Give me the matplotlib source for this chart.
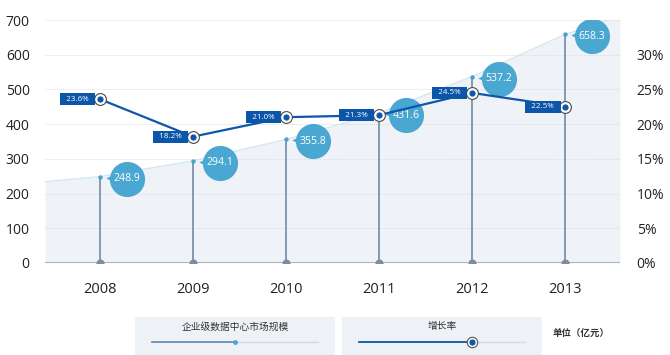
import matplotlib
matplotlib.use("Agg")
import matplotlib.pyplot as plt
import matplotlib.transforms as mtrans
from matplotlib.patches import Rectangle
from matplotlib.lines import Line2D
import numpy as np

plt.rcParams['font.family'] = ['Open Sans', 'Noto Sans CJK SC', 'DejaVu Sans']

years = ['2008', '2009', '2010', '2011', '2012', '2013']
market = [248.9, 294.1, 355.8, 431.6, 537.2, 658.3]
growth = [23.6, 18.2, 21.0, 21.3, 24.5, 22.5]
left_ticks = [0, 100, 200, 300, 400, 500, 600, 700]
right_ticks = [0, 5, 10, 15, 20, 25, 30]
legend_labels = ['企业级数据中心市场规模', '增长率']
unit_label = '单位（亿元）'

W, H = 670, 355
fig = plt.figure(figsize=(6.7, 3.55), dpi=100)
ax = fig.add_axes([45 / W, 1 - 263 / H, 575 / W, 243 / H])
ax2 = ax.twinx()

x = np.arange(len(years))
xl, xr = -0.59, len(years) - 1 + 0.59
ax.set_xlim(xl, xr)
ax.set_ylim(0, 700)
ax2.set_ylim(0, 35)

# area
m = np.array(market)
y_left = m[0] - (m[1] - m[0]) * (0 - xl) + 12
y_right = m[-1] + (m[-1] - m[-2]) * (xr - x[-1]) * 0.75
ax_x = np.concatenate([[xl], x, [xr]])
ax_y = np.concatenate([[y_left], m, [y_right]])
ax.fill_between(ax_x, 0, ax_y, color='#eff3f7', zorder=0, lw=0)
ax.plot(ax_x, ax_y, color='#d3e8f2', lw=1.0, zorder=1)

# grid
for t in left_ticks[1:]:
    ax.axhline(t, color='#d9dee4', lw=0.7, ls=(0, (1, 1)), zorder=1)
ax.axhline(0, color='#a8b6c6', lw=1.5, zorder=2)

for s in ['top', 'right', 'left', 'bottom']:
    ax.spines[s].set_visible(False)
    ax2.spines[s].set_visible(False)

ax.set_yticks(left_ticks)
ax.set_yticklabels([str(t) for t in left_ticks], fontsize=10, color='#222222')
ax.tick_params(axis='y', length=0, pad=11)
ax.set_xticks(x)
ax.set_xticklabels(years, fontsize=10.5, color='#222222')
ax.tick_params(axis='x', length=0, pad=14)
ax2.set_yticks(right_ticks)
ax2.set_yticklabels([f'{t}%' for t in right_ticks], fontsize=10, color='#222222')
ax2.tick_params(axis='y', length=0, pad=12)

# stems
ax.vlines(x, 0, market, color='#7b93ad', lw=1.3, zorder=3)
ax.scatter(x, [0] * len(x), s=34, color='#7a8da4', zorder=4, lw=0)
ax.scatter(x, market, s=10, color='#46a3cc', zorder=4, lw=0)

# bubbles
def off(dx, dy):
    return ax.transData + mtrans.ScaledTranslation(dx / 100, dy / 100, fig.dpi_scale_trans)

bub = '#4aa7d1'
ax.scatter(x, market, s=640, color=bub, lw=0, zorder=5, transform=off(27, -2))
ax.scatter(x, market, s=55, marker='<', color=bub, lw=0, zorder=5, transform=off(11, -1))
for xi, v in zip(x, market):
    ax.text(xi, v, f'{v:.1f}', transform=off(27, -2), ha='center', va='center',
            fontsize=7.6, color='white', zorder=6)

# growth line
ax2.plot(x, growth, color='#0d57ab', lw=1.6, zorder=6)
ax2.plot(x, growth, ls='none', marker='o', ms=8.5, mfc='white', mec='#4a4a4a', mew=0.8, zorder=7)
ax2.plot(x, growth, ls='none', marker='o', ms=4.5, mfc='#0d57ab', mec='none', zorder=8)
for xi, g in zip(x, growth):
    ax2.annotate(f'  {g:.1f}%  ', xy=(xi, g), xytext=(-7, 0), textcoords='offset pixels',
                 ha='right', va='center', fontsize=5.8, color='white', zorder=8,
                 bbox=dict(boxstyle='square,pad=0.3', fc='#0b56a8', ec='none'))

# legend
def fx(px):
    return px / W

def fy(py):
    return 1 - py / H

for (x0, x1) in [(135, 335), (342, 542)]:
    fig.patches.append(Rectangle((fx(x0), 0), fx(x1) - fx(x0), fy(317), transform=fig.transFigure,
                                 fc='#eef2f6', ec='none', zorder=0))
fig.text(fx(235), fy(327), legend_labels[0], ha='center', va='center', fontsize=7, color='#333333')
fig.text(fx(442), fy(327), legend_labels[1], ha='center', va='center', fontsize=7, color='#333333')
fig.lines.append(Line2D([fx(152), fx(235)], [fy(342)] * 2, transform=fig.transFigure, color='#5f87ad', lw=1.2))
fig.lines.append(Line2D([fx(235), fx(318)], [fy(342)] * 2, transform=fig.transFigure, color='#d3dae2', lw=1.0))
fig.lines.append(Line2D([fx(235)], [fy(342)], transform=fig.transFigure, marker='o', ms=3.5,
                        mfc='#48a8d4', mec='none', ls='none'))
fig.lines.append(Line2D([fx(359), fx(472)], [fy(342)] * 2, transform=fig.transFigure, color='#0d57ab', lw=1.3))
fig.lines.append(Line2D([fx(472), fx(525)], [fy(342)] * 2, transform=fig.transFigure, color='#d3dae2', lw=1.0))
fig.lines.append(Line2D([fx(472)], [fy(342)], transform=fig.transFigure, marker='o', ms=7.5,
                        mfc='white', mec='#555555', mew=0.8, ls='none'))
fig.lines.append(Line2D([fx(472)], [fy(342)], transform=fig.transFigure, marker='o', ms=4.5,
                        mfc='#0d57ab', mec='none', ls='none'))
fig.text(fx(581), fy(333), unit_label, ha='center', va='center', fontsize=6.8, color='#333333',
         fontweight='bold')

fig.savefig('out.png', dpi=100)
